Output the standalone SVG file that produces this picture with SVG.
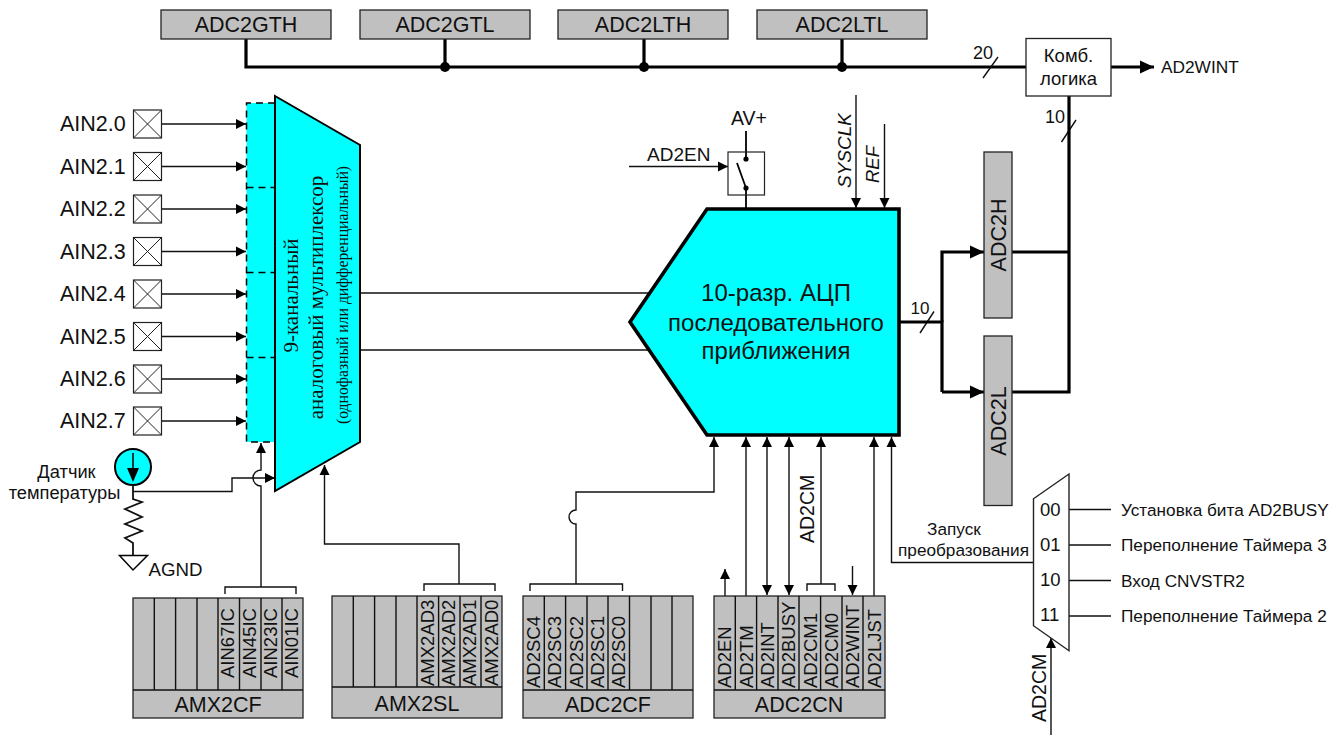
<svg xmlns="http://www.w3.org/2000/svg" width="1344" height="735" viewBox="0 0 1344 735">
<style>
text{font-family:"Liberation Sans",Arial,sans-serif;fill:#111}
.reg{fill:#c0c0c0;stroke:#222;stroke-width:1.3}
.t21{font-size:21.5px;text-anchor:middle}
.ain{font-size:21.5px}
.v18{font-size:18.5px}
.w{fill:none;stroke:#111;stroke-width:1.4}
.W{fill:none;stroke:#000;stroke-width:3.2}
.a{marker-end:url(#ah)}
.A{marker-end:url(#aH)}
.s{marker-start:url(#ahs)}
.pin{fill:#fff;stroke:#222;stroke-width:1.2}
.dash{fill:none;stroke:#000;stroke-width:1.5;stroke-dasharray:7 5}
.f16{font-size:17.2px}
.ser{font-family:"Liberation Serif","Times New Roman",serif;text-anchor:middle}
</style>
<defs>
<marker id="ah" markerUnits="userSpaceOnUse" markerWidth="11" markerHeight="11" refX="10" refY="5.5" orient="auto"><path d="M0 0.5L10 5.5L0 10.5Z" fill="#000"/></marker>
<marker id="ahs" markerUnits="userSpaceOnUse" markerWidth="11" markerHeight="11" refX="0" refY="5.5" orient="auto"><path d="M10 0.5L0 5.5L10 10.5Z" fill="#000"/></marker>
<marker id="aH" markerUnits="userSpaceOnUse" markerWidth="15" markerHeight="15" refX="14" refY="7.5" orient="auto"><path d="M0 1L14 7.5L0 14Z" fill="#000"/></marker>
<g id="pinbox"><rect class="pin" x="-14" y="-14" width="28" height="28"/><path d="M-14 -14L14 14M14 -14L-14 14" fill="none" stroke="#222" stroke-width="1"/></g>
</defs>

<g id="connectors">
<path class="W" d="M246 39V67H1026M445 39V67M644 39V67M842 39V67"/>
<path class="W A" d="M1111 67H1154"/>
<path class="w" d="M983 78L998 57M1061.500 142L1076 120M920 333L934 311.500"/>
<path class="W" d="M1069 96V392H1012M1012 252H1069"/>
<path class="W" d="M899 322H942V392"/>
<path class="W A" d="M942 322V252H984"/>
<path class="W A" d="M942 392H984"/>
<path class="w" style="stroke-width:1.7" d="M360 293H650M360 350H649"/>
<path class="w a" d="M162 124H246"/><path class="w a" d="M162 166.500H246"/><path class="w a" d="M162 209H246"/><path class="w a" d="M162 251.500H246"/>
<path class="w a" d="M162 294H246"/><path class="w a" d="M162 336.500H246"/><path class="w a" d="M162 379H246"/><path class="w a" d="M162 421H246"/>
<path class="w a" d="M133 491.500H232V478H275"/>
<path class="w a" d="M261 587V486A8 8 0 0 1 261 470V443"/>
<path class="w" d="M225 594V587H296V594"/>
<path class="w a" d="M459 584V544H324.500V465"/>
<path class="w" d="M424 591V584H495V591"/>
<path class="w a" d="M576 584V524A7 7 0 0 1 576 510V492H714V437"/>
<path class="w" d="M530 591V584H622.500V591"/>
<path class="w a" d="M725 596V569"/>
<path class="w a" d="M746 596V437"/>
<path class="w a s" d="M767 595V437"/>
<path class="w a s" d="M789 595V437"/>
<path class="w a" d="M821 584V437"/>
<path class="w" d="M807 591V584H835V591"/>
<path class="w a" d="M852.500 566V595"/>
<path class="w a" d="M874 596V437"/>
<path class="w a" d="M1033.500 562.500H891.500V437"/>
<path class="w" d="M1069 509.500H1111M1069 545H1111M1069 580.500H1111M1069 616H1111"/>
<path class="w a" d="M1051 735V638"/>
<path class="w a" d="M629 166.500H728"/>
<path class="w a" d="M856 95V208"/>
<path class="w a" d="M884.500 124V208"/>
<path style="fill:none;stroke:#000;stroke-width:1.8" d="M746 131V159M746 188V209M737 163L746 188"/>
<circle cx="746" cy="159" r="2.600"/><circle cx="746" cy="188" r="2.600"/>
<circle cx="445" cy="67" r="5"/><circle cx="644" cy="67" r="5"/><circle cx="842" cy="67" r="5"/>
</g>

<g id="top-registers">
<g id="adc2gth"><rect class="reg" x="161" y="10" width="170" height="29"/><text class="t21" x="246" y="32">ADC2GTH</text></g>
<g id="adc2gtl"><rect class="reg" x="360" y="10" width="170" height="29"/><text class="t21" x="445" y="32">ADC2GTL</text></g>
<g id="adc2lth"><rect class="reg" x="558" y="10" width="170" height="29"/><text class="t21" x="643" y="32">ADC2LTH</text></g>
<g id="adc2ltl"><rect class="reg" x="757" y="10" width="170" height="29"/><text class="t21" x="842" y="32">ADC2LTL</text></g>
</g>

<g id="comb"><rect x="1026" y="38.500" width="85" height="57.500" fill="#fff" stroke="#222" stroke-width="1.300"/>
<text text-anchor="middle" x="1068.500" y="62" style="font-size:18.500px">Комб.</text><text text-anchor="middle" x="1068.500" y="85" style="font-size:18.500px">логика</text></g>
<text x="1161" y="73" style="font-size:17.300px">AD2WINT</text>
<text x="973" y="59" style="font-size:18px">20</text>
<text x="1045" y="123" style="font-size:18px">10</text>
<text x="910.500" y="314" style="font-size:17px">10</text>

<g id="adc2h"><rect class="reg" x="984" y="152" width="28" height="166"/><text class="t21" transform="translate(1006 235) rotate(-90)">ADC2H</text></g>
<g id="adc2l"><rect class="reg" x="984" y="336" width="28" height="169.500"/><text class="t21" transform="translate(1006 421) rotate(-90)">ADC2L</text></g>

<g id="adc"><path d="M707 209H899V435H707L630 322Z" fill="#0ff" stroke="#000" stroke-width="3.600"/>
<text text-anchor="middle" x="776" y="300.500" style="font-size:24px">10-разр. АЦП</text>
<text text-anchor="middle" x="776" y="331" style="font-size:24px">последовательного</text>
<text text-anchor="middle" x="776" y="359" style="font-size:24px">приближения</text></g>

<g id="mux">
<rect x="246.500" y="103" width="29" height="339" fill="#0ff"/>
<path class="dash" d="M275 103H246.500V442H275M246.500 187.500H275M246.500 272.500H275M246.500 357.500H275"/>
<path d="M275 96L360 145V442L275 491Z" fill="#0ff" stroke="#000" stroke-width="2"/>
<text class="ser" style="font-size:21px" transform="translate(298 295.500) rotate(-90)">9-канальный</text>
<text class="ser" style="font-size:21px" transform="translate(323 297.500) rotate(-90)">аналоговый мультиплексор</text>
<text class="ser" style="font-size:15.700px" transform="translate(348 295) rotate(-90)">(однофазный или дифференциальный)</text>
</g>

<g id="ain-pins">
<g id="ain0"><text class="ain" x="60" y="131">AIN2.0</text><use href="#pinbox" x="147.500" y="124"/></g>
<g id="ain1"><text class="ain" x="60" y="173.500">AIN2.1</text><use href="#pinbox" x="147.500" y="166.500"/></g>
<g id="ain2"><text class="ain" x="60" y="216">AIN2.2</text><use href="#pinbox" x="147.500" y="209"/></g>
<g id="ain3"><text class="ain" x="60" y="258.500">AIN2.3</text><use href="#pinbox" x="147.500" y="251.500"/></g>
<g id="ain4"><text class="ain" x="60" y="301">AIN2.4</text><use href="#pinbox" x="147.500" y="294"/></g>
<g id="ain5"><text class="ain" x="60" y="343.500">AIN2.5</text><use href="#pinbox" x="147.500" y="336.500"/></g>
<g id="ain6"><text class="ain" x="60" y="386">AIN2.6</text><use href="#pinbox" x="147.500" y="379"/></g>
<g id="ain7"><text class="ain" x="60" y="428">AIN2.7</text><use href="#pinbox" x="147.500" y="421"/></g>
</g>

<g id="temp-sensor">
<circle cx="133" cy="467" r="18" fill="#0ff" stroke="#000" stroke-width="2"/>
<path d="M133 453V470" stroke="#000" stroke-width="1.500"/><path d="M127 468H139L133 482Z"/>
<path class="w" style="stroke-width:1.800" d="M133 485V499L142 502L125 509L142 517L125 524L142 531L125 538L133 543V555"/>
<path d="M119.500 555.500H147.500L133 570Z" fill="none" stroke="#000" stroke-width="1.500"/>
<text text-anchor="middle" x="66.500" y="478" style="font-size:18.300px">Датчик</text>
<text text-anchor="middle" x="64.500" y="498.500" style="font-size:18.300px">температуры</text>
<text x="148.500" y="575.500" style="font-size:18.700px">AGND</text>
</g>

<g id="amx2cf">
<rect class="reg" x="133" y="598" width="170" height="120"/>
<path class="w" d="M133 690H303M154.300 598V690M175.600 598V690M197 598V690M218 598V690M239.500 598V690M261 598V690M282 598V690"/>
<text class="t21" x="218" y="712">AMX2CF</text>
<text class="v18" transform="translate(234 678) rotate(-90)">AIN67IC</text>
<text class="v18" transform="translate(255.500 678) rotate(-90)">AIN45IC</text>
<text class="v18" transform="translate(277 678) rotate(-90)">AIN23IC</text>
<text class="v18" transform="translate(298 678) rotate(-90)">AIN01IC</text>
</g>
<g id="amx2sl">
<rect class="reg" x="332" y="596" width="170" height="122"/>
<path class="w" d="M332 687H502M353.300 596V687M374.600 596V687M396 596V687M417 596V687M438.600 596V687M460 596V687M481 596V687"/>
<text class="t21" x="417" y="711">AMX2SL</text>
<text class="v18" transform="translate(433.500 686) rotate(-90)">AMX2AD3</text>
<text class="v18" transform="translate(455 686) rotate(-90)">AMX2AD2</text>
<text class="v18" transform="translate(476 686) rotate(-90)">AMX2AD1</text>
<text class="v18" transform="translate(497.500 686) rotate(-90)">AMX2AD0</text>
</g>
<g id="adc2cf">
<rect class="reg" x="523" y="596" width="170" height="122"/>
<path class="w" d="M523 690H693M544.300 596V690M565.600 596V690M587 596V690M608 596V690M629.500 596V690M651 596V690M672 596V690"/>
<text class="t21" x="608" y="712">ADC2CF</text>
<text class="v18" transform="translate(540 688) rotate(-90)">AD2SC4</text>
<text class="v18" transform="translate(561 688) rotate(-90)">AD2SC3</text>
<text class="v18" transform="translate(582.500 688) rotate(-90)">AD2SC2</text>
<text class="v18" transform="translate(604 688) rotate(-90)">AD2SC1</text>
<text class="v18" transform="translate(625 688) rotate(-90)">AD2SC0</text>
</g>
<g id="adc2cn">
<rect class="reg" x="714" y="596" width="171" height="122"/>
<path class="w" d="M714 690H885M735.300 596V690M756.600 596V690M778 596V690M799 596V690M820.600 596V690M842 596V690M863 596V690"/>
<text class="t21" x="799" y="712">ADC2CN</text>
<text class="v18" transform="translate(731 688) rotate(-90)">AD2EN</text>
<text class="v18" transform="translate(752.500 688) rotate(-90)">AD2TM</text>
<text class="v18" transform="translate(774 688) rotate(-90)">AD2INT</text>
<text class="v18" transform="translate(795 688) rotate(-90)">AD2BUSY</text>
<text class="v18" transform="translate(816.500 688) rotate(-90)">AD2CM1</text>
<text class="v18" transform="translate(838 688) rotate(-90)">AD2CM0</text>
<text class="v18" transform="translate(859 688) rotate(-90)">AD2WINT</text>
<text class="v18" transform="translate(880.500 688) rotate(-90)">AD2LJST</text>
</g>
<text transform="translate(814 543) rotate(-90)" style="font-size:19.500px">AD2CM</text>

<g id="switch">
<rect x="728" y="152" width="36.500" height="43" fill="none" stroke="#222" stroke-width="1.200"/>
<text x="731" y="125" style="font-size:19.500px">AV+</text>
<text x="647" y="161" style="font-size:19px">AD2EN</text>
</g>
<text transform="translate(851 188) rotate(-90)" style="font-size:19px;font-style:italic">SYSCLK</text>
<text transform="translate(879 183) rotate(-90)" style="font-size:18.500px;font-style:italic">REF</text>

<g id="start-mux">
<path d="M1033.500 498.700L1069 474V650.700L1033.500 625.700Z" fill="#fff" stroke="#222" stroke-width="1.400"/>
<text x="1040" y="515.500" style="font-size:18.500px">00</text>
<text x="1040" y="551" style="font-size:18.500px">01</text>
<text x="1040" y="586" style="font-size:18.500px">10</text>
<text x="1040" y="621" style="font-size:18.500px">11</text>
<text class="f16" x="1121" y="515.500">Установка бита AD2BUSY</text>
<text class="f16" x="1121" y="550.500">Переполнение Таймера 3</text>
<text class="f16" x="1121" y="586.500">Вход CNVSTR2</text>
<text class="f16" x="1121" y="621.500">Переполнение Таймера 2</text>
<text class="f16" text-anchor="middle" x="954" y="535">Запуск</text>
<text class="f16" text-anchor="middle" x="963.500" y="556">преобразования</text>
<text transform="translate(1046 722) rotate(-90)" style="font-size:19.500px">AD2CM</text>
</g>
</svg>
